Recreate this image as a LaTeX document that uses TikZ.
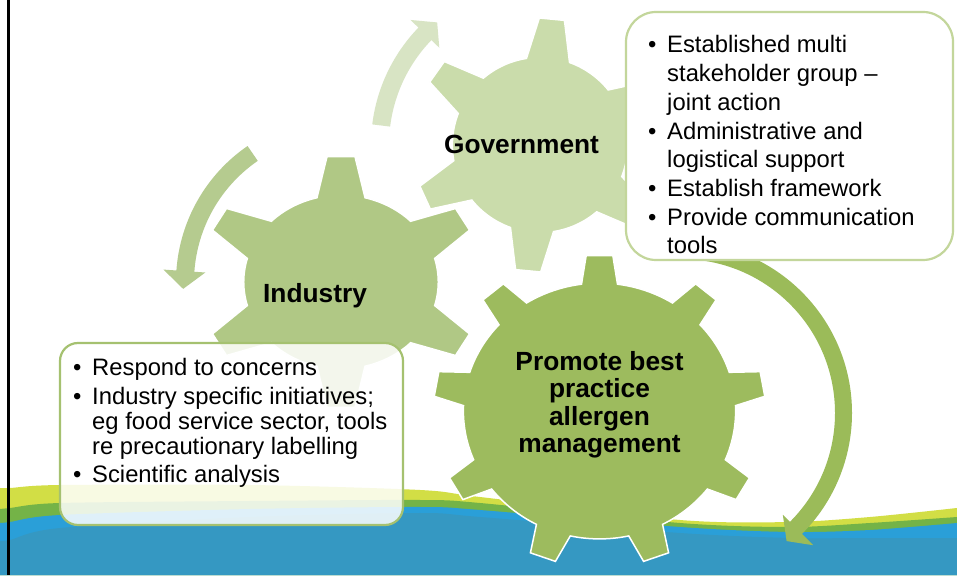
\documentclass[tikz,border=0pt]{standalone}
\usepackage{xcolor}
\usepackage{fontspec}
\setmainfont{Liberation Sans}
\usepackage{tikz}

\definecolor{govgreen}{HTML}{CADCAB}
\definecolor{govarrow}{HTML}{D8E4C4}
\definecolor{indgreen}{HTML}{B0C885}
\definecolor{indarrow}{HTML}{B5CB8F}
\definecolor{promgreen}{HTML}{9DBB5E}
\definecolor{promarrow}{HTML}{9BBB59}
\definecolor{govframe}{HTML}{C3D69B}
\definecolor{indframe}{HTML}{A5C170}
\definecolor{waveyellow}{HTML}{D2DE45}
\definecolor{wavegreen}{HTML}{74B347}
\definecolor{wavelight}{HTML}{2A9FD8}
\definecolor{waveblue}{HTML}{3598C2}

\begin{document}
\begin{tikzpicture}[x=1pt,y=1pt]
				\tikzstyle{cog}=[draw=white, line width=1.5pt]
				\tikzstyle{flow}=[]
				\tikzstyle{gearlabel}=[font=\fontsize{26.3}{27.3}\selectfont\bfseries, inner sep=0pt, anchor=base]
				\tikzstyle{listbox}=[draw, line width=2.2pt, fill=white]
				\tikzstyle{listtext}=[font=\fontsize{23.8}{28.7}\selectfont, inner sep=0pt, anchor=base west]
				
				\useasboundingbox[fill=white] (0,0) rectangle (957,575);
				
				% background waves
				\fill[waveyellow] (0,0) -- plot[smooth] coordinates {(0,87) (10,87) (60,90) (250,90) (420,85) (480,78) (680,55) (790,53) (870,58) (957,67)} -- (957,0) -- cycle;
				\fill[wavegreen] (0,0) -- plot[smooth] coordinates {(0,66) (10,67) (60,72) (250,74) (420,75) (480,72) (680,52) (790,48) (870,52) (957,58)} -- (957,0) -- cycle;
				\fill[wavelight] (0,0) -- plot[smooth] coordinates {(0,52) (10,53) (60,60) (250,66) (420,68) (480,65) (680,48) (790,43) (870,45) (957,52)} -- (957,0) -- cycle;
				\fill[waveblue] (0,0) -- plot[smooth] coordinates {(0,34) (10,35) (60,47) (250,58) (420,62) (480,58) (680,42) (790,37) (870,37) (957,37)} -- (957,0) -- cycle;
				\draw[black, line width=3pt] (8.5,0) -- (8.5,575);
				
				% arrows
				\begin{scope}[shift={(540,430)}]
				\fill[flow, fill=govarrow] (173:169) arc[start angle=173, end angle=136, radius=169] -- (136:180) -- (130:160) -- (136:140) -- (136:151) arc[start angle=136, end angle=173, radius=151] -- cycle;
				\end{scope}
				\begin{scope}[shift={(341,293)}]
				\fill[flow, fill=indarrow] (124.5:165) arc[start angle=124.5, end angle=176, radius=165] -- (176:178) -- (182.5:158) -- (176:136) -- (176:147) arc[start angle=176, end angle=124.5, radius=147] -- cycle;
				\end{scope}
				\begin{scope}[shift={(681,162)}]
				\fill[flow, fill=promarrow] (90:171) arc[start angle=90, end angle=-45, radius=171] -- (-45:187) -- (-50.5:166) -- (-45:144) -- (-45:154) arc[start angle=-45, end angle=90, radius=154] -- cycle;
				\end{scope}
				
				% gears
				\begin{scope}[shift={(540,430)}, scale=127]
				\filldraw[cog, fill=govgreen] ({84.6-60+14.3}:0.69) \foreach \a in {84.6,144.6,204.6,264.6,324.6,384.6} {arc[start angle=\a-60+14.3, end angle=\a-14.3, radius=0.69] -- ({\a-5.7}:1) -- ({\a+5.7}:1) -- ({\a+14.3}:0.69)} -- cycle;
				\end{scope}
				\begin{scope}[shift={(341,293)}, xscale=141, yscale=126]
				\filldraw[cog, fill=indgreen] ({90-60+14.3}:0.69) \foreach \a in {90,150,210,270,330,390} {arc[start angle=\a-60+14.3, end angle=\a-14.3, radius=0.69] -- ({\a-5.7}:1) -- ({\a+5.7}:1) -- ({\a+14.3}:0.69)} -- cycle;
				\end{scope}
				\begin{scope}[shift={(599.5,164)}, xscale=166, yscale=156]
				\filldraw[cog, fill=promgreen] ({90-40+7.6}:0.82) \foreach \a in {90,130,170,210,250,290,330,370,410} {arc[start angle=\a-40+7.6, end angle=\a-7.6, radius=0.82] -- ({\a-4.6}:1) -- ({\a+4.6}:1) -- ({\a+7.6}:0.82)} -- cycle;
				\end{scope}
				
				% gear labels
				\node[gearlabel](gov)  at (521.5,421) {Government};
				\node[gearlabel](ind)  at (315,272) {Industry};
				\node[gearlabel](prom) at (599.5,204.3) {\begin{tabular}[t]{@{}c@{}}Promote best\\practice\\allergen\\management\end{tabular}};
				
				% government list
				\node[listbox, draw=govframe, rounded corners=30pt, minimum width=327pt, minimum height=248pt](govbox) at (789.5,439) {};
				\node[listtext](govlist) at (647.8,522) {\begin{tabular}[t]{@{}l@{\hspace{10.9pt}}l@{}}
					•&Established multi\\&stakeholder group –\\&joint action\\
					•&Administrative and\\&logistical support\\
					•&Establish framework\\
					•&Provide communication\\&tools\end{tabular}};
				
				% industry list
				\node[listbox, draw=indframe, fill opacity=0.85, rounded corners=18pt, minimum width=343pt, minimum height=182pt](indbox) at (231.5,141) {};
				\node[listtext, font=\fontsize{23.8}{25}\selectfont](indlist) at (72.8,199) {\begin{tabular}[t]{@{}l@{\hspace{10.9pt}}l@{}}
					•&Respond to concerns\\[4pt]
					•&Industry specific initiatives;\\&eg food service sector, tools\\&re precautionary labelling\\[3pt]
					•&Scientific analysis\end{tabular}};
			\end{tikzpicture}
\end{document}
